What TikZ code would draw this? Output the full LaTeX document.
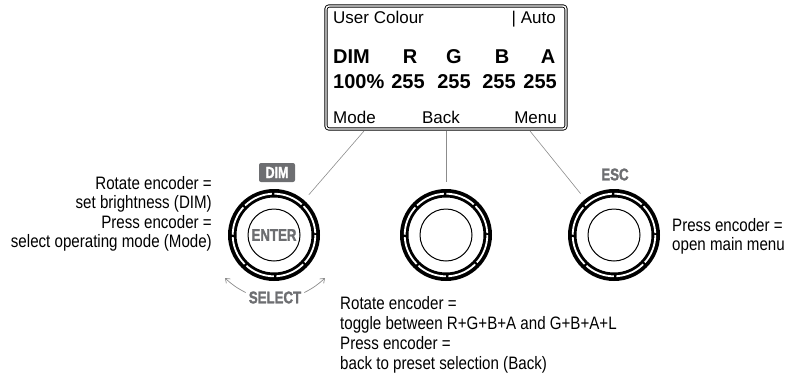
\documentclass[tikz,border=0pt]{standalone}
\usepackage{fontspec}
\setmainfont{Liberation Sans}
\newfontfamily\condfont[FakeStretch=0.84]{Liberation Sans}
\newfontfamily\heavyfont[FakeStretch=0.78, FakeBold=1.6]{Liberation Sans Bold}
\usepackage{tikz}
\usetikzlibrary{positioning,arrows.meta}
\definecolor{panelgrey}{HTML}{6D6E71}
\definecolor{leadgrey}{HTML}{8C8C8C}

\begin{document}
\begin{tikzpicture}[x=1pt, y=-1pt,
  lcd/.style={draw, double, double distance=1.4pt, line width=0.9pt, rounded corners=3pt,
              minimum width=240pt, minimum height=123pt, inner sep=0pt},
  lcdtxt/.style={font=\fontsize{17}{20}\selectfont, inner sep=0pt},
  lcdbig/.style={font=\fontsize{20}{24}\selectfont\bfseries, inner sep=0pt},
  knob/.style={circle, minimum size=106pt, inner sep=0pt},
  tagtxt/.style={text=panelgrey, font=\heavyfont\fontsize{17}{19}\selectfont, inner sep=0pt},
  tagbox/.style={fill=panelgrey, text=white, rounded corners=2pt, minimum width=36pt,
                 minimum height=19pt, inner sep=0pt, font=\heavyfont\fontsize{16}{18}\selectfont},
  note/.style={font=\condfont\fontsize{18}{19.5}\selectfont, inner sep=0pt},
  lead/.style={draw=leadgrey, line width=0.6pt},
  selarr/.style={-{Straight Barb[length=4pt,width=6pt]}, draw=leadgrey, line width=0.7pt}]
\useasboundingbox (0,0) rectangle (792,381);

% display
\node[lcd] (disp) at (446,67.5) {};
\node[lcdtxt, anchor=base west] (title) at (333,23) {User Colour};
\node[lcdtxt, anchor=base east] (auto) at (556,23) {| Auto};
\node[lcdbig, anchor=base west] (hdim) at (333,63) {DIM};
\node[lcdbig, anchor=base] (hr) at (410,63) {R};
\node[lcdbig, anchor=base] (hg) at (454,63) {G};
\node[lcdbig, anchor=base] (hb) at (502,63) {B};
\node[lcdbig, anchor=base] (ha) at (548,63) {A};
\node[lcdbig, anchor=base west] (vdim) at (333,88) {100\%};
\node[lcdbig, anchor=base] (vr) at (408,88) {255};
\node[lcdbig, anchor=base] (vg) at (454,88) {255};
\node[lcdbig, anchor=base] (vb) at (499,88) {255};
\node[lcdbig, anchor=base east] (va) at (557,88) {255};
\node[lcdtxt, anchor=base west] (fmode) at (333,123) {Mode};
\node[lcdtxt, anchor=base] (fback) at (441,123) {Back};
\node[lcdtxt, anchor=base east] (fmenu) at (557,123) {Menu};

% encoders
\foreach \k/\x in {kl/274,km/446,kr/614}{
  \fill[even odd rule] (\x,235) circle[radius=46] circle[radius=37.5];
  \draw[white, line width=1.8pt, dash pattern=on 30pt off 2.5pt] (\x,235) circle[radius=41.3];
  \draw[line width=1pt] (\x,235) circle[radius=26];
  \node[knob] (\k) at (\x,235) {};
}
\node[tagtxt] (enter) at (kl.center) {ENTER};
\node[tagbox] (dimtag) at (277,172.5) {DIM};
\node[tagtxt] (esc) at (615,174.5) {ESC};
\node[tagtxt] (select) at (275,297.5) {SELECT};

% leaders from the display
\coordinate (dl) at (364,131);
\coordinate (dm) at (446,131);
\coordinate (dr) at (530,131);
\draw[lead] (dl) -- (kl);
\draw[lead] (dm) -- (km);
\draw[lead] (dr) -- (kr);

\coordinate (sl) at (225,278);
\coordinate (sr) at (325,278);
\draw[selarr] (select.west) ++(-3,-5) to[bend left=8] (sl);
\draw[selarr] (select.east) ++(3,-5) to[bend right=8] (sr);

% notes
\node[note, align=right, anchor=north east] (nl) at (212,176)
  {Rotate encoder =\\set brightness (DIM)\\Press encoder =\\select operating mode (Mode)};
\node[note, align=left, anchor=north west, font=\condfont\fontsize{18}{20}\selectfont] (nm) at (340,296)
  {Rotate encoder =\\toggle between R+G+B+A and G+B+A+L\\Press encoder =\\back to preset selection (Back)};
\node[note, align=left, anchor=north west] (nr) at (672,218)
  {Press encoder =\\open main menu};
\end{tikzpicture}
\end{document}
